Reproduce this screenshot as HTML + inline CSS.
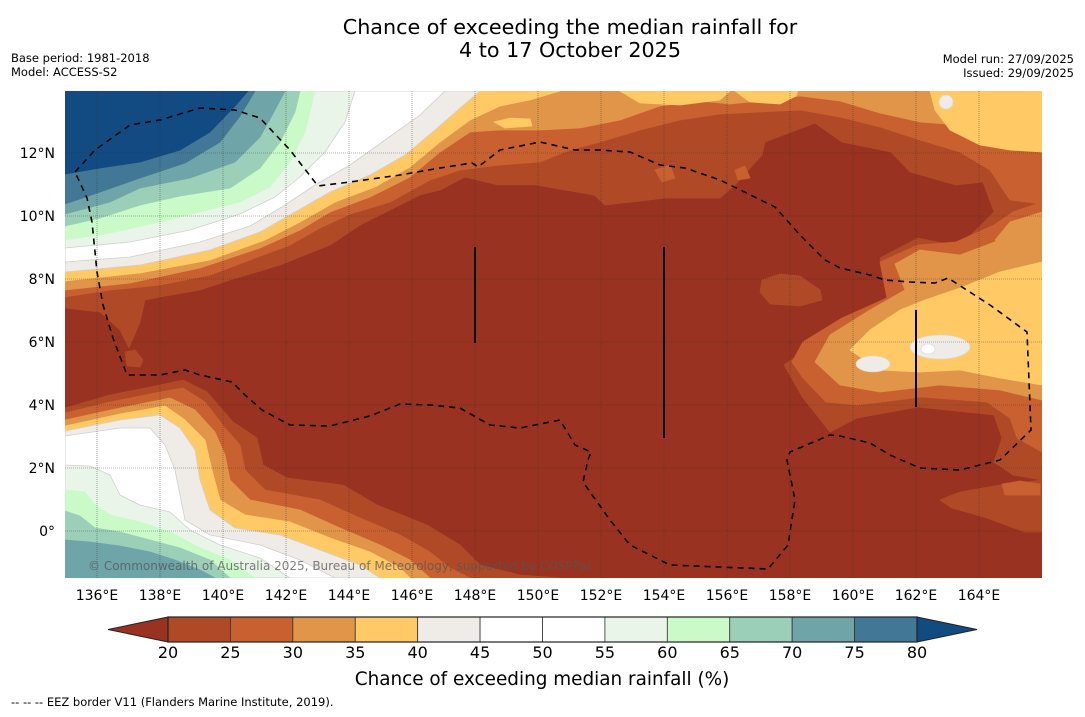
<!DOCTYPE html>
<html><head><meta charset="utf-8">
<style>
html,body{margin:0;padding:0;background:#fff;}
body{width:1085px;height:713px;overflow:hidden;position:relative;font-family:"DejaVu Sans","Liberation Sans",sans-serif;}
svg text{font-family:"DejaVu Sans","Liberation Sans",sans-serif;}
</style></head>
<body>
<svg id="chart" width="1085" height="713" viewBox="0 0 1085 713" xmlns="http://www.w3.org/2000/svg">
  <text x="570" y="34" font-size="20.7" text-anchor="middle" fill="#000">Chance of exceeding the median rainfall for</text>
  <text x="570" y="57" font-size="20.7" text-anchor="middle" fill="#000">4 to 17 October 2025</text>
  <text x="11" y="62" font-size="11.5">Base period: 1981-2018</text>
  <text x="11" y="76" font-size="11.5">Model: ACCESS-S2</text>
  <text x="1074" y="63" font-size="11.5" text-anchor="end">Model run: 27/09/2025</text>
  <text x="1074" y="77" font-size="11.5" text-anchor="end">Issued: 29/09/2025</text>
  <defs><clipPath id="mapclip"><rect x="65" y="91" width="977" height="487"/></clipPath></defs>
  <g id="map" clip-path="url(#mapclip)"></g>
  <g id="axes"></g>
  <g id="cbar"></g>
  <text x="542" y="685" font-size="18.4" text-anchor="middle">Chance of exceeding median rainfall (%)</text>
  <text x="11" y="706" font-size="11.5">--  --  -- EEZ border V11 (Flanders Marine Institute, 2019).</text>
</svg>
<script>
// Colorbar data
const levels = [20,25,30,35,40,45,50,55,60,65,70,75,80];
const binColors = ["#b04a26","#c96030","#e09548","#ffc966","#efebe6","#ffffff","#ffffff","#e9f5e9","#c9fac8","#9ccfb8","#6fa5a8","#427896"];
const underColor = "#993220";
const overColor = "#124a82";
// Axis ticks
const lonTicks = [136,138,140,142,144,146,148,150,152,154,156,158,160,162,164];
const latTicks = [0,2,4,6,8,10,12];

const NS="http://www.w3.org/2000/svg";
function mk(tag, attrs, parent){const e=document.createElementNS(NS,tag);for(const k in attrs)e.setAttribute(k,attrs[k]);parent.appendChild(e);return e;}
const lonX = lon => 97 + (lon-136)*31.5;
const latY = lat => 531 - lat*31.5;
const map=document.getElementById('map'), axes=document.getElementById('axes'), cbar=document.getElementById('cbar');

const bg=mk('rect',{x:65,y:91,width:977,height:487,fill:underColor},map);



const TL=[[65,91]], TR=[[1042,91]], BL=[[65,578]];
const regions = [
 ["nw-top-20",0, [[65,308],[100,312],[120,330],[129,348],[140,322],[145,300],[160,297],[200,290],[230,280],[280,265],[330,245],[360,225],[390,210],[420,195],[440,190],[465,177],[498,185],[536,185],[594,195],[605,205],[666,198],[720,198],[735,185],[762,155],[765,142],[815,123],[842,142],[891,152],[910,172],[956,185],[983,182],[994,212],[971,235],[952,245],[918,238],[880,258],[891,305],[842,325],[784,365],[803,398],[830,432],[857,418],[918,407],[994,415],[1002,438],[994,462],[1013,475],[1042,480]].concat(TR,TL)],
 ["sw-20",0, [[65,408],[110,395],[160,385],[183,380],[207,392],[233,422],[257,438],[263,465],[287,478],[343,485],[377,505],[427,525],[460,545],[480,565],[520,575],[560,578]].concat(BL)],
 ["se-blob-20",0, [[940,500],[952,508],[987,518],[1025,532],[1042,532],[1042,480],[1000,485],[960,492]]],
 ["mid-blob-20",0, [[762,280],[780,274],[800,276],[820,290],[822,300],[800,306],[770,304],[760,292]]],
 ["sw-tongue-blob-20",0, [[125,352],[135,350],[143,360],[140,367],[127,366]]],
 ["top-25",1, [[65,297],[110,290],[160,285],[210,275],[250,260],[290,245],[320,228],[350,214],[390,202],[430,180],[460,170],[500,165],[540,162],[570,150],[600,142],[640,130],[680,120],[720,114],[760,112],[800,110],[840,117],[880,127],[920,140],[960,152],[990,170],[1010,200],[1042,204]].concat(TR,TL)],
 ["right-25",1, [[1042,202],[1013,212],[994,225],[956,242],[918,245],[880,262],[887,298],[842,318],[803,342],[792,362],[803,378],[826,402],[857,405],[922,397],[987,402],[1010,418],[1017,438],[1042,452]]],
 ["se-small-25",1, [[1002,484],[1020,481],[1040,484],[1040,495],[1005,495]]],
 ["top-blob-25a",1, [[655,170],[670,165],[675,178],[662,182]]],
 ["top-blob-25b",1, [[735,170],[745,166],[750,178],[738,180]]],
 ["sw-25",1, [[65,413],[110,402],[160,392],[183,388],[205,402],[225,428],[240,445],[245,470],[265,490],[320,500],[360,518],[400,535],[430,552],[450,568],[470,578]].concat(BL)],
 ["top-30",2, [[65,290],[130,283],[200,268],[260,248],[300,230],[330,212],[370,197],[410,177],[440,152],[470,132],[500,130],[540,130],[580,128],[620,120],[660,106],[700,101],[730,104],[760,101],[800,96],[840,101],[880,113],[920,122],[960,125],[1000,130],[1042,135]].concat(TR,TL)],
 ["right-edge-30",2, [[1042,212],[1010,222],[995,240],[1010,250],[1042,252]]],
 ["right-30",2, [[1042,225],[1000,240],[960,255],[920,250],[895,264],[905,290],[870,310],[830,335],[815,362],[840,385],[880,392],[940,385],[1000,390],[1042,400]]],
 ["sw-30",2, [[65,420],[120,408],[170,398],[195,410],[215,432],[225,455],[230,480],[250,500],[300,510],[340,528],[380,545],[410,560],[430,578]].concat(BL)],
 ["top-35",3, [[65,281],[140,273],[210,260],[265,240],[300,222],[335,202],[375,187],[410,167],[440,142],[470,120],[500,106],[530,100],[560,91]].concat(TL)],
 ["top-blob-35a",3, [[620,91],[640,103],[680,105],[720,100],[730,91]]],
 ["top-blob-35b",3, [[735,91],[750,102],[780,104],[796,96],[798,91]]],
 ["top-right-35",3, [[930,91],[935,110],[950,130],[980,145],[1010,150],[1042,152],[1042,91]]],
 ["top-blob-35c",3, [[494,122],[510,118],[530,119],[532,126],[505,128]]],
 ["right-35",3, [[1042,262],[1000,272],[960,288],[925,300],[900,310],[870,330],[850,350],[880,370],[920,372],[960,370],[1000,378],[1042,385]]],
 ["sw-35",3, [[65,426],[120,414],[165,406],[185,420],[205,440],[212,470],[220,500],[245,515],[290,522],[330,538],[370,552],[400,568],[410,578]].concat(BL)],
 ["top-40",4, [[65,272],[140,265],[210,250],[260,232],[295,212],[330,192],[370,175],[405,155],[435,130],[460,108],[480,91]].concat(TL)],
 ["sw-40",4, [[65,431],[120,420],[160,415],[180,428],[195,450],[200,480],[210,510],[235,528],[280,535],[320,550],[360,565],[380,578]].concat(BL)],
 ["top-45",5, [[65,262],[130,257],[200,242],[250,226],[285,205],[315,185],[350,165],[385,140],[420,115],[445,91]].concat(TL)],
 ["sw-45",5, [[65,436],[120,428],[150,428],[165,445],[175,470],[180,495],[185,520],[210,535],[260,545],[300,560],[335,578]].concat(BL)],
 ["top-55",7, [[65,248],[130,242],[190,230],[240,214],[275,197],[300,177],[325,152],[345,122],[355,91]].concat(TL)],
 ["sw-55",7, [[65,465],[90,466],[110,475],[120,495],[140,505],[170,512],[190,530],[220,545],[260,558],[290,578]].concat(BL)],
 ["top-60",8, [[65,240],[110,233],[160,222],[200,212],[240,202],[270,187],[290,162],[305,132],[315,91]].concat(TL)],
 ["sw-60",8, [[65,490],[85,492],[95,505],[110,515],[140,522],[170,532],[200,548],[230,560],[255,578]].concat(BL)],
 ["top-65",9, [[65,226],[100,218],[140,205],[180,196],[230,188],[260,168],[280,142],[295,112],[300,91]].concat(TL)],
 ["sw-65",9, [[65,511],[80,516],[95,528],[120,532],[150,540],[180,548],[210,560],[230,578]].concat(BL)],
 ["top-70",10, [[65,214],[110,202],[140,188],[190,178],[235,162],[260,137],[275,110],[285,91]].concat(TL)],
 ["sw-70",10, [[65,540],[90,542],[120,546],[150,552],[175,560],[200,570],[215,578]].concat(BL)],
 ["top-75",11, [[65,204],[100,192],[140,178],[185,163],[220,142],[240,116],[255,91]].concat(TL)],
 ["top-80",-1, [[65,174],[100,168],[140,162],[180,150],[210,132],[235,106],[248,91]].concat(TL)]
];
regions.forEach(r=>{
  const col = r[1]<0 ? overColor : binColors[r[1]];
  const p=mk('polygon',{points:r[2].map(q=>q.join(',')).join(' '),fill:col,stroke:(col==="#ffffff"||col==="#efebe6"||col==="#e9f5e9")?"#d0d0d0":col,'stroke-width':0.8,'stroke-linejoin':'round'},map);
  
  
});
[[940,347,30,12,"#efebe6"],[873,364,17,8,"#efebe6"],[928,349,7,5,"#ffffff"],[946,102,7,7,"#efebe6"]].forEach((b,i)=>{
  const e=mk('ellipse',{cx:b[0],cy:b[1],rx:b[2],ry:b[3],fill:b[4],stroke:"#d8d8d8",'stroke-width':0.6},map);
  
  
});
lonTicks.forEach(l=>{
  const g=mk('line',{x1:lonX(l),x2:lonX(l),y1:91,y2:578,stroke:"#333",'stroke-width':0.6,'stroke-dasharray':'1,1',opacity:0.7},map);
  
  
});
latTicks.forEach(l=>{
  const g=mk('line',{x1:65,x2:1042,y1:latY(l),y2:latY(l),stroke:"#333",'stroke-width':0.6,'stroke-dasharray':'1,1',opacity:0.7},map);
  
  
});
[[475,247,343],[664,247,438],[916,310,407]].forEach((v,i)=>{
  const e=mk('line',{x1:v[0],x2:v[0],y1:v[1],y2:v[2],stroke:"#000",'stroke-width':2},map);
  
  
});
const eez=[[75,172],[95,150],[130,125],[160,120],[200,108],[235,110],[260,118],[290,150],[318,186],[350,182],[400,175],[440,168],[472,163],[478,167],[500,150],[540,142],[575,150],[600,150],[630,152],[660,165],[685,168],[720,180],[775,207],[800,235],[825,260],[840,268],[870,275],[885,280],[910,282],[935,283],[948,278],[990,305],[1027,332],[1031,430],[1000,460],[960,470],[920,468],[890,455],[870,443],[840,436],[830,435],[790,452],[787,460],[795,500],[788,545],[768,569],[670,565],[630,545],[610,520],[583,482],[588,460],[591,452],[575,445],[560,420],[520,428],[490,425],[460,408],[430,405],[400,404],[370,416],[330,426],[290,425],[262,410],[245,395],[232,382],[200,375],[185,370],[160,375],[127,375],[113,338],[103,305],[97,272],[92,222],[87,198]];
const ez=mk('polygon',{points:eez.map(q=>q.join(',')).join(' '),fill:"none",stroke:"#000",'stroke-width':1.6,'stroke-dasharray':'6,5'},map);


const cp=mk('text',{x:88,y:570,'font-size':12,fill:"#555",opacity:0.75},map);
cp.textContent="© Commonwealth of Australia 2025, Bureau of Meteorology, supported by COSPPac";


lonTicks.forEach(l=>{
  const t=mk('text',{x:lonX(l),y:600,'font-size':14,'text-anchor':'middle'},axes);
  t.textContent=l+"°E";
  
  
});
latTicks.forEach(l=>{
  const t=mk('text',{x:55,y:latY(l)+5,'font-size':14,'text-anchor':'end'},axes);
  t.textContent=l===0?"0°":l+"°N";
  
  
});
const cbX = v => 168 + (v-20)*(917-168)/60;
const cy0=617, cy1=642;
const tl=mk('polygon',{points:`108,${(cy0+cy1)/2} ${cbX(20)},${cy0} ${cbX(20)},${cy1}`,fill:underColor,stroke:"#222",'stroke-width':1},cbar);


const tr=mk('polygon',{points:`977,${(cy0+cy1)/2} ${cbX(80)},${cy0} ${cbX(80)},${cy1}`,fill:overColor,stroke:"#222",'stroke-width':1},cbar);


binColors.forEach((c,i)=>{
  const r=mk('rect',{x:cbX(levels[i]),y:cy0,width:cbX(levels[i+1])-cbX(levels[i]),height:cy1-cy0,fill:c,stroke:"#333",'stroke-width':0.8},cbar);
  
  
});
const frame=mk('rect',{x:cbX(20),y:cy0,width:cbX(80)-cbX(20),height:cy1-cy0,fill:"none",stroke:"#222",'stroke-width':1.2},cbar);


levels.forEach(v=>{
  const t=mk('text',{x:cbX(v),y:658,'font-size':16,'text-anchor':'middle'},cbar);
  t.textContent=v;
  
  
});
</script>
</body></html>
